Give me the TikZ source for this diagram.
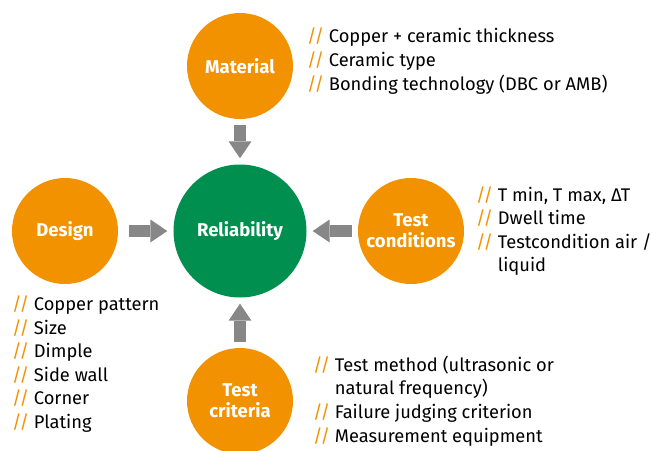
\documentclass[tikz,border=0pt]{standalone}
\usepackage{fontspec}
\setmainfont{Fira Sans}
\usetikzlibrary{arrows.meta,positioning}
\definecolor{ifxorange}{RGB}{243,146,0}
\definecolor{ifxgreen}{RGB}{0,143,79}
\definecolor{ifxgray}{RGB}{135,135,135}
\newcommand{\dsl}{{\color{ifxorange}//}\ }
\newcommand{\dind}{\phantom{//}\ }
\begin{document}
\begin{tikzpicture}[node distance=170pt,on grid,
  topic/.style={circle,fill=ifxorange,minimum size=106pt,inner sep=0pt,text=white,
    font=\fontsize{18.5}{21}\selectfont\bfseries,align=center},
  core/.style={topic,fill=ifxgreen,minimum size=133pt},
  facts/.style={align=left,inner sep=0pt,anchor=west,font=\fontsize{18.3}{23.6}\selectfont},
  push/.style={line width=12pt,draw=ifxgray,
    -{Triangle[length=17pt,width=23pt,line width=0pt,fill=ifxgray]},
    shorten <=6pt,shorten >=6pt}]
\useasboundingbox (-240pt,-219pt) rectangle (412pt,231pt);
\node[core] (rel) at (0,0) {Reliability};
\node[topic] (mat) [above=165pt of rel] {Material};
\node[topic] (des) [left=175pt of rel] {Design};
\node[topic] (tcond) [right=171pt of rel] {Test\\conditions};
\node[topic] (tcrit) [below=170pt of rel] {Test\\criteria};
\node[facts] (matlist) at ([shift={(67pt,5pt)}]mat.center)
  {\dsl Copper + ceramic thickness\\ \dsl Ceramic type\\ \dsl Bonding technology (DBC or AMB)};
\node[facts] (deslist) at ([shift={(-53pt,-133pt)}]des.center)
  {\dsl Copper pattern\\ \dsl Size\\ \dsl Dimple\\ \dsl Side wall\\ \dsl Corner\\ \dsl Plating};
\node[facts] (tcondlist) at ([shift={(65pt,0pt)}]tcond.center)
  {\dsl T min, T max, ΔT\\ \dsl Dwell time\\ \dsl Testcondition air /\\ \dind liquid};
\node[facts] (tcritlist) at ([shift={(73pt,0pt)}]tcrit.center)
  {\dsl Test method (ultrasonic or\\ \dind natural frequency)\\ \dsl Failure judging criterion\\ \dsl Measurement equipment};
\path[push]
(mat) edge (rel)
(des) edge [shorten <=11pt] (rel)
(tcond) edge (rel)
(tcrit) edge (rel);
\end{tikzpicture}
\end{document}
